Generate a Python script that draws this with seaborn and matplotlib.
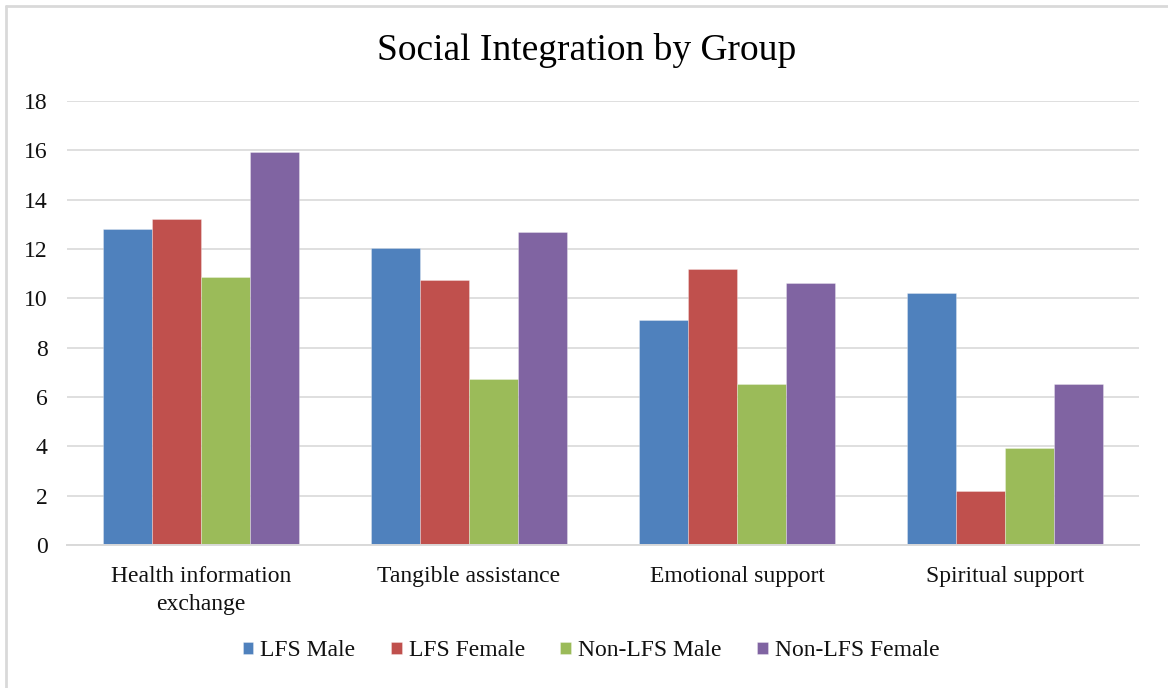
import matplotlib
matplotlib.use("Agg")
import matplotlib.pyplot as plt
from matplotlib.lines import Line2D
import seaborn as sns
import pandas as pd

# Categories, groups and mean scores
categories = ["Health information\nexchange", "Tangible assistance",
              "Emotional support", "Spiritual support"]
groups = ["LFS Male", "LFS Female", "Non-LFS Male", "Non-LFS Female"]
lfs_male = [12.8, 12.04, 9.12, 10.2]
lfs_female = [13.22, 10.74, 11.18, 2.19]
non_lfs_male = [10.85, 6.73, 6.52, 3.93]
non_lfs_female = [15.93, 12.69, 10.63, 6.52]
y_ticks = [0, 2, 4, 6, 8, 10, 12, 14, 16, 18]

palette = ["#4F81BD", "#C0504D", "#9BBB59", "#8064A2"]

series = [lfs_male, lfs_female, non_lfs_male, non_lfs_female]
df = pd.DataFrame(
    [(c, g, v) for g, vals in zip(groups, series) for c, v in zip(categories, vals)],
    columns=["category", "group", "value"],
)

sns.set_theme(style="white")
plt.rcParams["font.family"] = ["Liberation Serif", "DejaVu Serif"]

fig = plt.figure(figsize=(11.68, 6.88), dpi=100)
W, H = 1168, 688
ax = fig.add_axes([67 / W, 1 - 545 / H, (1139 - 67) / W, (545 - 101) / H])

sns.barplot(
    data=df, x="category", y="value", hue="group", order=categories,
    hue_order=groups, palette=palette, width=0.73, gap=0, saturation=1,
    errorbar=None, ax=ax, edgecolor=(1, 1, 1, 0.35), linewidth=0.6, zorder=3,
)

ax.set_ylim(0, 18)
ax.set_xlim(-0.5, 3.5)
ax.set_yticks(y_ticks)
ax.set_yticklabels([str(t) for t in y_ticks])
ax.yaxis.grid(True, color="#d9d9d9", linewidth=1.2, zorder=0)
ax.set_axisbelow(True)
ax.set_xlabel("")
ax.set_ylabel("")
for side in ["top", "right", "left"]:
    ax.spines[side].set_visible(False)
ax.spines["bottom"].set_color("#d9d9d9")
ax.spines["bottom"].set_linewidth(1.4)
ax.spines["bottom"].set_zorder(4)
ax.tick_params(axis="y", length=0, pad=14, labelsize=17, labelcolor="#111111")
ax.tick_params(axis="x", length=0, pad=15, labelsize=17, labelcolor="#111111")
for lbl in ax.get_xticklabels():
    lbl.set_linespacing(1.45)

handles, labels = ax.get_legend_handles_labels()
ax.legend(
    handles, labels, ncol=4, frameon=False, loc="center",
    bbox_to_anchor=(591 / W, 1 - 651 / H), bbox_transform=fig.transFigure,
    fontsize=17, handlelength=0.45, handleheight=0.45, handletextpad=0.3,
    columnspacing=1.5, labelcolor="#111111",
)

fig.text(587 / W, 1 - 50 / H, "Social Integration by Group", ha="center",
         va="center", fontsize=27, color="#000000")

# light frame lines around the chart area
fig.add_artist(Line2D([6 / W, 6 / W], [0, 1 - 6 / H], transform=fig.transFigure,
                      color="#d9d9d9", linewidth=2))
fig.add_artist(Line2D([6 / W, 1], [1 - 6 / H, 1 - 6 / H], transform=fig.transFigure,
                      color="#d9d9d9", linewidth=2))

fig.savefig("out.png", dpi=100, facecolor="white")
